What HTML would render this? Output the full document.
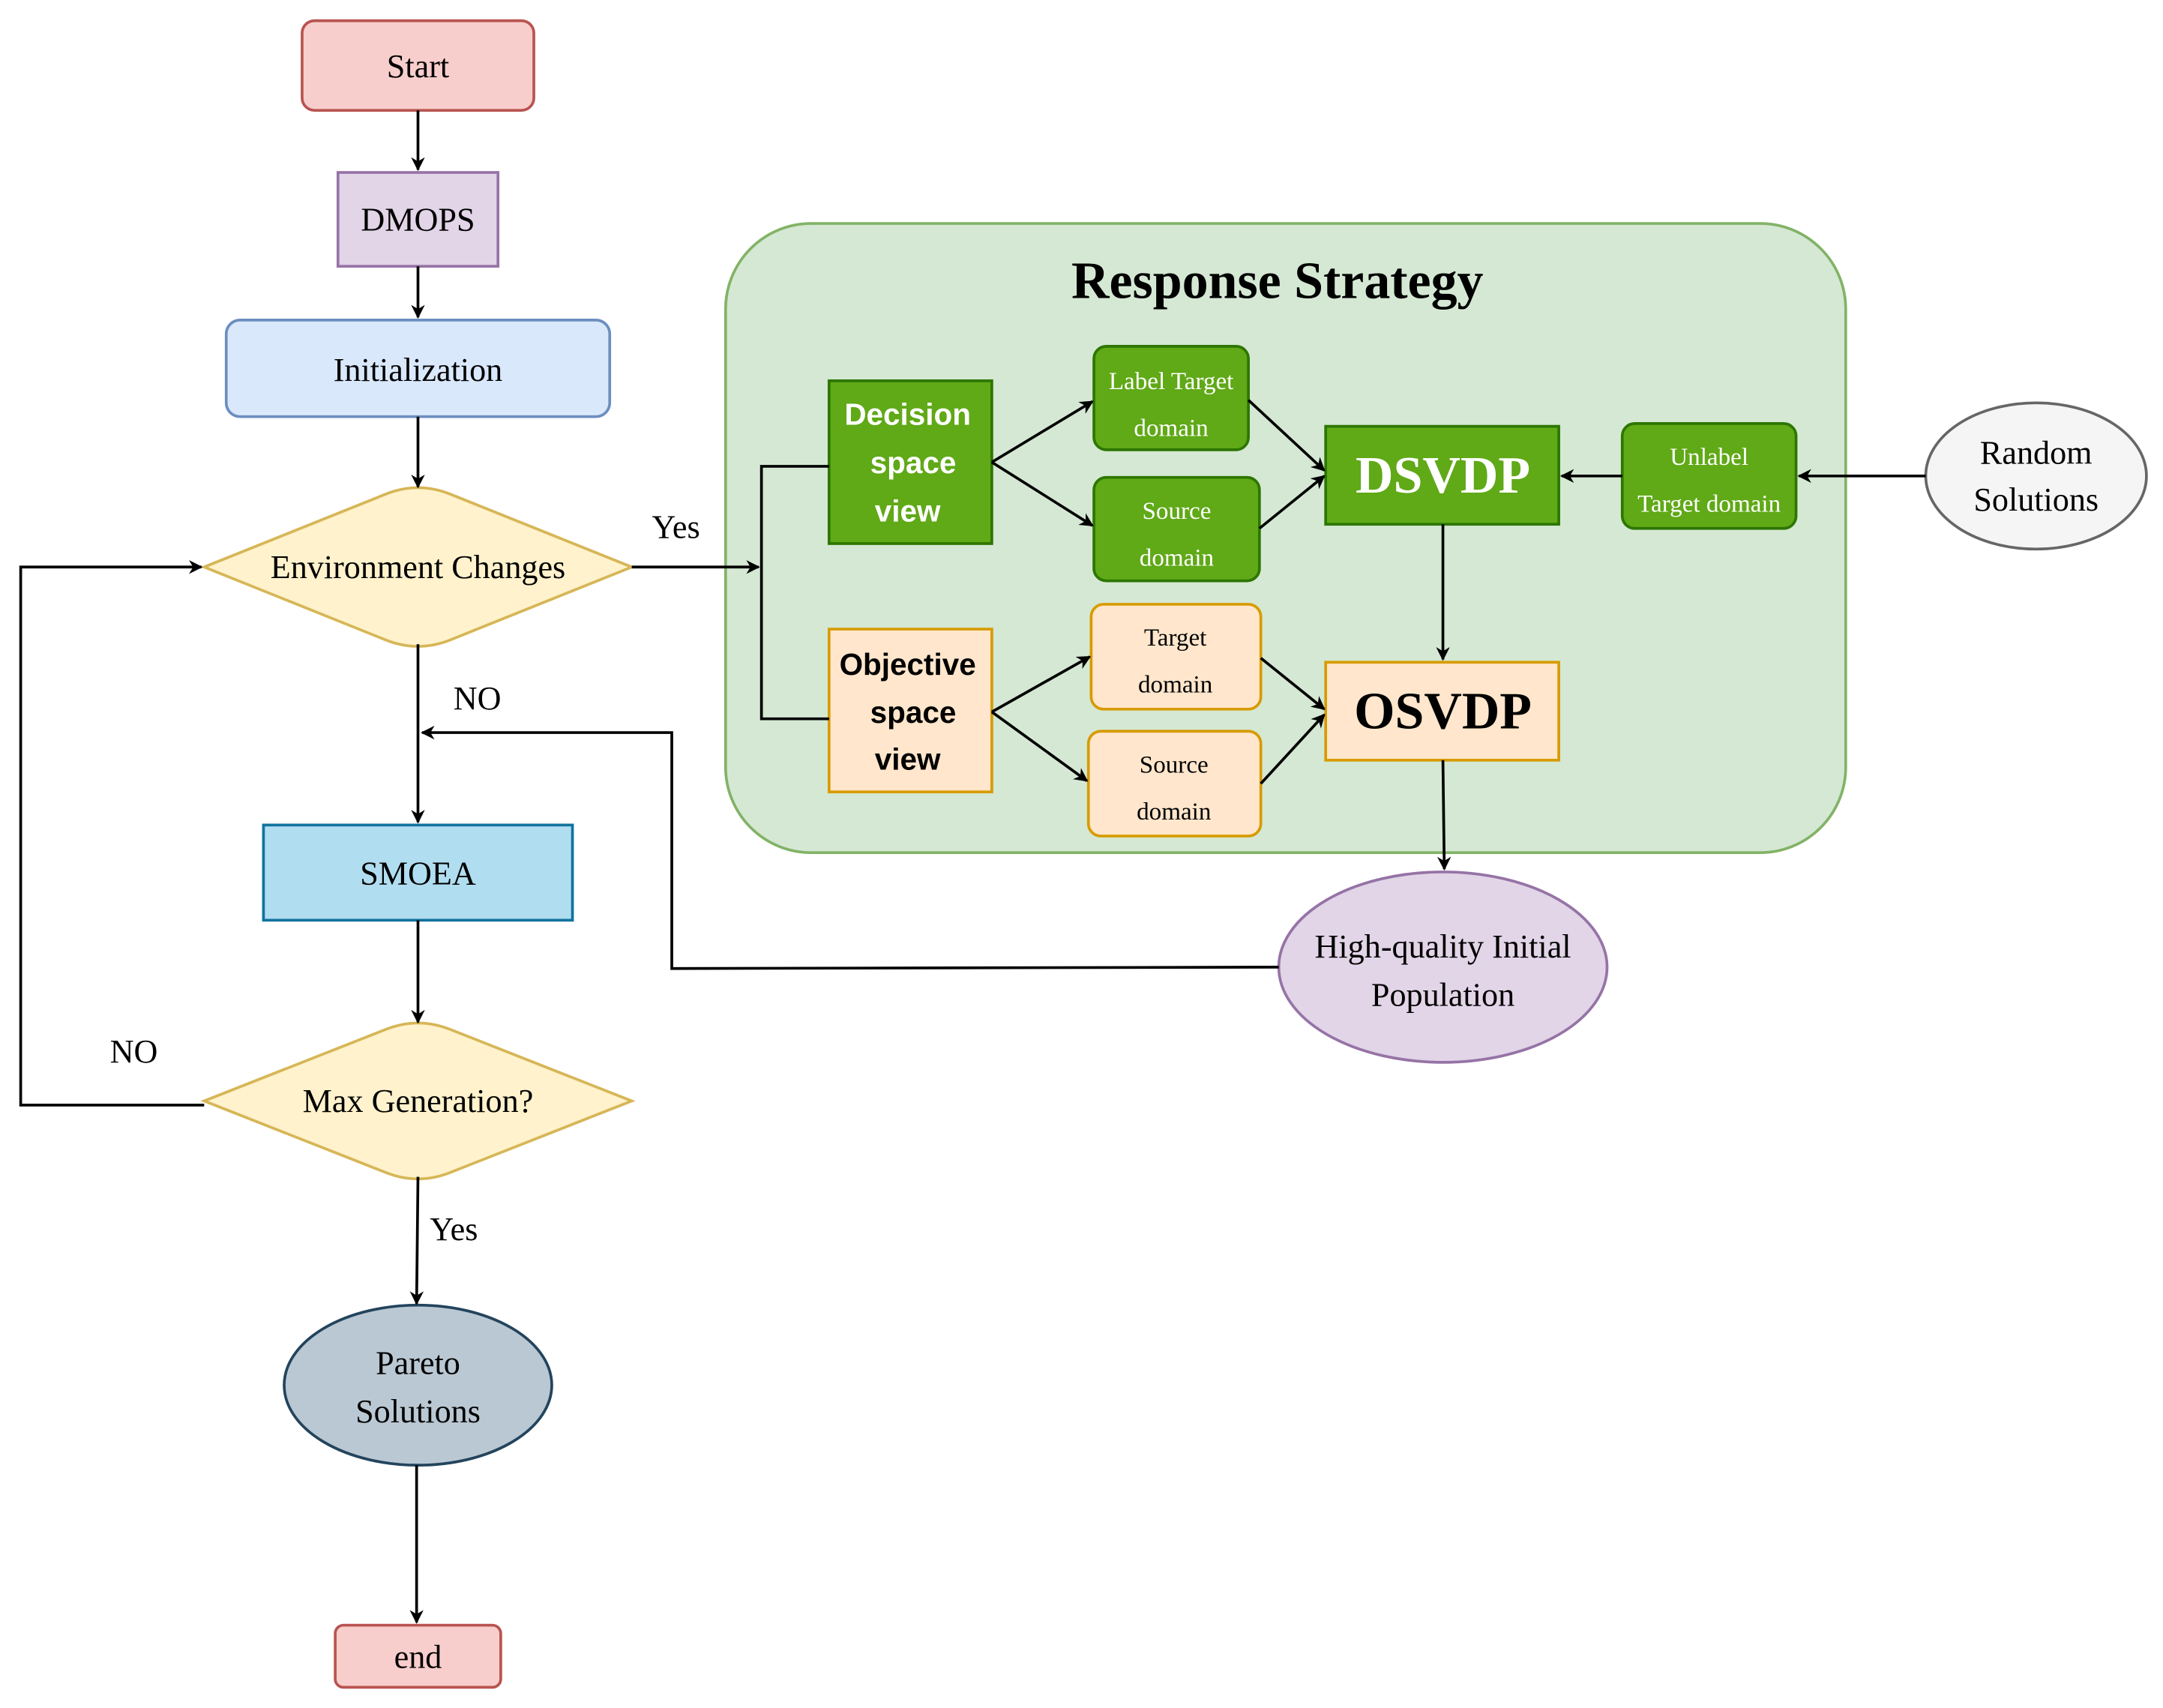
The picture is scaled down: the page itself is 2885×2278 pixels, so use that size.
<!DOCTYPE html>
<html><head><meta charset="utf-8"><style>
html,body{margin:0;padding:0;background:#fff;}
svg{display:block;}
text{font-family:"Liberation Serif",serif;fill:#000;}
.s{font-family:"Liberation Sans",sans-serif;font-weight:bold;}
</style></head><body>
<svg width="2885" height="2278" viewBox="0 0 1568 1238" preserveAspectRatio="none" xmlns="http://www.w3.org/2000/svg">
<defs><marker id="a" markerWidth="10" markerHeight="10" refX="9" refY="5" orient="auto" markerUnits="userSpaceOnUse"><path d="M0,0 L10,5 L0,10 L3,5 Z" fill="#000"/></marker></defs>
<g stroke-width="2">
<rect x="219" y="15" width="168" height="65" rx="9" fill="#f8cecc" stroke="#b85450"/>
<rect x="245" y="125" width="116" height="68" fill="#e1d5e7" stroke="#9673a6"/>
<rect x="164" y="232" width="278" height="70" rx="10" fill="#dae8fc" stroke="#6c8ebf"/>
<path d="M148,411 L280,358 Q303,349 326,358 L458,411 L326,464 Q303,473 280,464 Z" fill="#fff2cc" stroke="#d6b656"/>
<rect x="191" y="598" width="224" height="69" fill="#b1ddf0" stroke="#10739e"/>
<path d="M148,798 L280,746 Q303,737 326,746 L458,798 L326,850 Q303,859 280,850 Z" fill="#fff2cc" stroke="#d6b656"/>
<ellipse cx="303" cy="1004" rx="97" ry="58" fill="#bac8d3" stroke="#23445d"/>
<rect x="243" y="1178" width="120" height="45" rx="6" fill="#f8cecc" stroke="#b85450"/>
<rect x="526" y="162" width="812" height="456" rx="62" fill="#d5e8d4" stroke="#82b366"/>
<rect x="601" y="276" width="118" height="118" fill="#60a917" stroke="#2d7600"/>
<rect x="793" y="251" width="112" height="75" rx="9" fill="#60a917" stroke="#2d7600"/>
<rect x="793" y="346" width="120" height="75" rx="9" fill="#60a917" stroke="#2d7600"/>
<rect x="961" y="309" width="169" height="71" fill="#60a917" stroke="#2d7600"/>
<rect x="1176" y="307" width="126" height="76" rx="9" fill="#60a917" stroke="#2d7600"/>
<ellipse cx="1476" cy="345" rx="80" ry="53" fill="#f5f5f5" stroke="#666"/>
<rect x="601" y="456" width="118" height="118" fill="#ffe6cc" stroke="#d79b00"/>
<rect x="791" y="438" width="123" height="76" rx="9" fill="#ffe6cc" stroke="#d79b00"/>
<rect x="789" y="530" width="125" height="76" rx="9" fill="#ffe6cc" stroke="#d79b00"/>
<rect x="961" y="480" width="169" height="71" fill="#ffe6cc" stroke="#d79b00"/>
<ellipse cx="1046" cy="701" rx="119" ry="69" fill="#e1d5e7" stroke="#9673a6"/>
</g>
<g stroke="#000" stroke-width="2" fill="none" marker-end="url(#a)">
<path d="M303,80 V123"/><path d="M303,193 V230"/><path d="M303,302 V353"/>
<path d="M458,411 H550"/><path d="M303,467 V596"/>
<path d="M927,701 L487,702 V531 H306"/>
<path d="M303,667 V741"/>
<path d="M148,801 H15 V411 H146"/>
<path d="M303,853 L302,945"/>
<path d="M302,1062 V1176"/>
<path d="M719,335 L792,291"/><path d="M719,335 L792,381"/>
<path d="M905,290 L960,341"/><path d="M913,383 L960,345"/>
<path d="M1176,345 H1132"/><path d="M1396,345 H1304"/>
<path d="M1046,380 V478"/>
<path d="M719,516 L790,476"/><path d="M719,516 L788,566"/>
<path d="M914,477 L960,514"/><path d="M914,568 L960,518"/>
<path d="M1046,551 L1047,630"/>
</g>
<g stroke="#000" stroke-width="2" fill="none"><path d="M601,338 H552 V521 H601"/></g>
<g font-size="24" text-anchor="middle">
<text x="303" y="56">Start</text>
<text x="303" y="167">DMOPS</text>
<text x="303" y="276">Initialization</text>
<text x="303" y="419">Environment Changes</text>
<text x="303" y="641">SMOEA</text>
<text x="303" y="806">Max Generation?</text>
<text x="303" y="996">Pareto</text><text x="303" y="1031">Solutions</text>
<text x="303" y="1209">end</text>
<text x="490" y="390">Yes</text>
<text x="346" y="514">NO</text>
<text x="97" y="770">NO</text>
<text x="329" y="899">Yes</text>
<text x="1476" y="336">Random</text><text x="1476" y="370">Solutions</text>
<text x="1046" y="694">High-quality Initial</text><text x="1046" y="729">Population</text>
<text x="926" y="216" font-size="38" font-weight="bold">Response Strategy</text>
<text x="1046" y="357" font-size="38" font-weight="bold" fill="#fff" style="fill:#fff">DSVDP</text>
<text x="1046" y="528" font-size="38" font-weight="bold">OSVDP</text>
</g>
<g font-size="22" text-anchor="middle" class="s">
<text class="s" x="658" y="308" fill="#fff" style="fill:#fff">Decision</text>
<text class="s" x="662" y="343" style="fill:#fff">space</text>
<text class="s" x="658" y="378" style="fill:#fff">view</text>
<text class="s" x="658" y="489">Objective</text>
<text class="s" x="662" y="524">space</text>
<text class="s" x="658" y="558">view</text>
</g>
<g font-size="18" text-anchor="middle">
<text x="849" y="282" style="fill:#fff">Label Target</text><text x="849" y="316" style="fill:#fff">domain</text>
<text x="853" y="376" style="fill:#fff">Source</text><text x="853" y="410" style="fill:#fff">domain</text>
<text x="1239" y="337" style="fill:#fff">Unlabel</text><text x="1239" y="371" style="fill:#fff">Target domain</text>
<text x="852" y="468">Target</text><text x="852" y="502">domain</text>
<text x="851" y="560">Source</text><text x="851" y="594">domain</text>
</g>
</svg>
</body></html>
